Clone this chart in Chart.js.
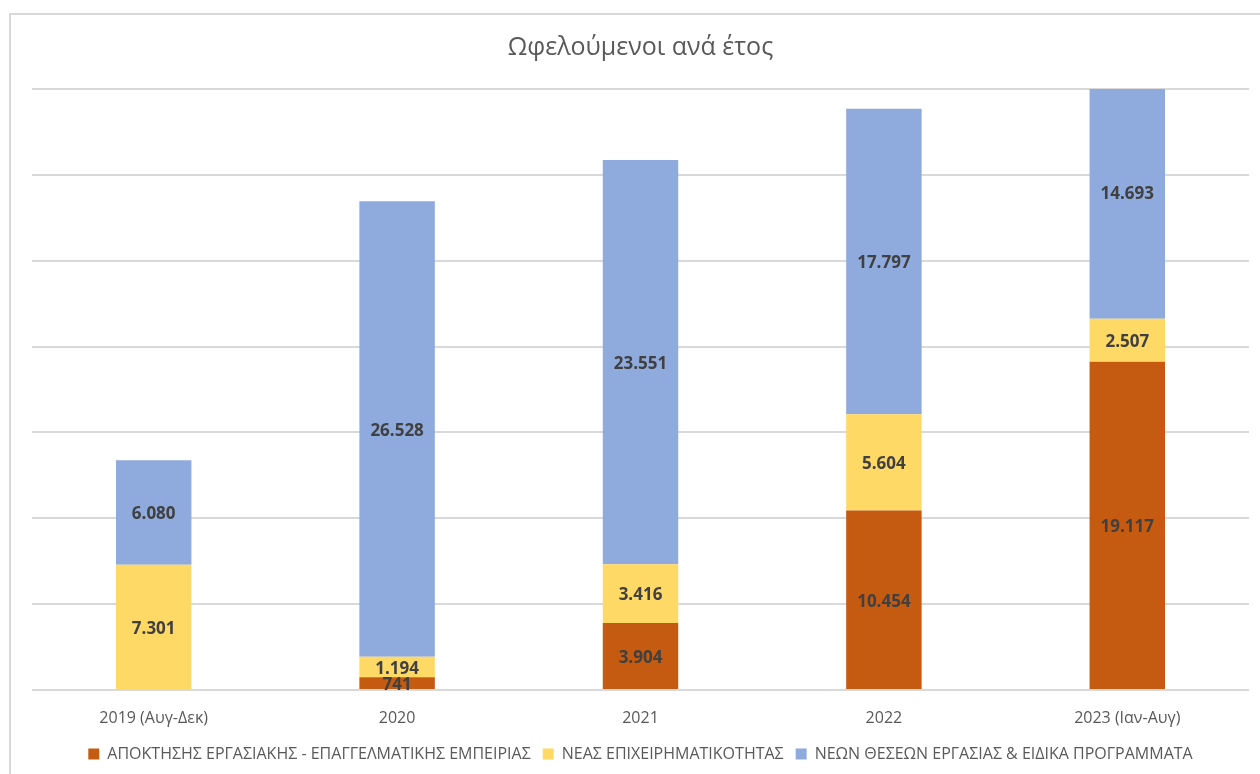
<!DOCTYPE html>
<html>
<head>
<meta charset="utf-8">
<script src="https://cdn.jsdelivr.net/npm/chart.js@4.4.0/dist/chart.umd.min.js"></script>
<style>
  html, body { margin: 0; padding: 0; background: #fff; }
  #wrap { position: relative; width: 1260px; height: 774px; overflow: hidden; }
  #frame { position: absolute; left: 9px; top: 13px; width: 1270px; height: 790px; border: 2px solid #d9d9d9; box-sizing: border-box; }
  #chartBox { position: absolute; left: 0; top: 0; width: 1260px; height: 774px; }
</style>
</head>
<body>
<div id="wrap">
  <div id="frame"></div>
  <div id="chartBox"><canvas id="stackedBarChart"></canvas></div>
</div>
<script>
let years = ['2019 (Αυγ-Δεκ)', '2020', '2021', '2022', '2023 (Ιαν-Αυγ)'];
let experience = [0, 741, 3904, 10454, 19117];
let entrepreneurship = [7301, 1194, 3416, 5604, 2507];
let newJobs = [6080, 26528, 23551, 17797, 14693];

let seriesNames = [
    'ΑΠΟΚΤΗΣΗΣ ΕΡΓΑΣΙΑΚΗΣ - ΕΠΑΓΓΕΛΜΑΤΙΚΗΣ ΕΜΠΕΙΡΙΑΣ',
    'ΝΕΑΣ ΕΠΙΧΕΙΡΗΜΑΤΙΚΟΤΗΤΑΣ',
    'ΝΕΩΝ ΘΕΣΕΩΝ ΕΡΓΑΣΙΑΣ & ΕΙΔΙΚΑ ΠΡΟΓΡΑΜΜΑΤΑ'
];
let seriesColors = ['#C55A11', '#FFD966', '#8FAADC'];

const fontFamily = "'Open Sans', 'Noto Sans', sans-serif";

// greek style thousands: 7.301
function fmt(v) {
    return String(v).replace(/\B(?=(\d{3})+(?!\d))/g, '.');
}

// draw the value in the middle of each bar segment
const barLabels = {
    id: 'barLabels',
    afterDatasetsDraw(chart) {
        const ctx = chart.ctx;
        ctx.save();
        ctx.font = "bold 17px " + fontFamily;
        ctx.fillStyle = '#404040';
        ctx.textAlign = 'center';
        ctx.textBaseline = 'middle';
        chart.data.datasets.forEach((ds, i) => {
            const meta = chart.getDatasetMeta(i);
            meta.data.forEach((bar, j) => {
                const v = ds.data[j];
                if (!v) return;
                ctx.fillText(fmt(v), bar.x, (bar.y + bar.base) / 2 + 2);
            });
        });
        ctx.restore();
    }
};

const data = {
    labels: years,
    datasets: [{
        label: seriesNames[0],
        backgroundColor: seriesColors[0],
        data: experience
    }, {
        label: seriesNames[1],
        backgroundColor: seriesColors[1],
        data: entrepreneurship
    }, {
        label: seriesNames[2],
        backgroundColor: seriesColors[2],
        data: newJobs
    }]
};

const options = {
    responsive: true,
    maintainAspectRatio: false,
    animation: false,
    datasets: {
        bar: {
            categoryPercentage: 1,
            barPercentage: 0.31,
            borderWidth: 0
        }
    },
    layout: {
        padding: { left: 32, right: 11, top: 30, bottom: 2 }
    },
    plugins: {
        title: {
            display: true,
            text: 'Ωφελούμενοι ανά έτος',
            color: '#595959',
            font: { family: fontFamily, size: 25, weight: 'normal' },
            padding: { top: 3, bottom: 26 }
        },
        legend: {
            position: 'bottom',
            labels: {
                color: '#595959',
                font: { family: fontFamily, size: 16 },
                boxWidth: 11,
                boxHeight: 11,
                padding: 12
            }
        },
        tooltip: { enabled: false }
    },
    scales: {
        x: {
            stacked: true,
            grid: { display: false },
            border: { display: false },
            ticks: {
                color: '#595959',
                font: { family: fontFamily, size: 16 },
                padding: 11
            },
            afterFit(scale) { scale.height = 44; }
        },
        y: {
            stacked: true,
            min: 0,
            max: 35000,
            ticks: { display: false, stepSize: 5000 },
            border: { display: false },
            grid: { color: '#d9d9d9', lineWidth: 2, drawTicks: false }
        }
    }
};

const canvas = document.getElementById('stackedBarChart');
const stackedBarChart = new Chart(canvas.getContext('2d'), {
    type: 'bar',
    data: data,
    options: options,
    plugins: [barLabels]
});
window.stackedBarChart = stackedBarChart;
</script>
</body>
</html>
